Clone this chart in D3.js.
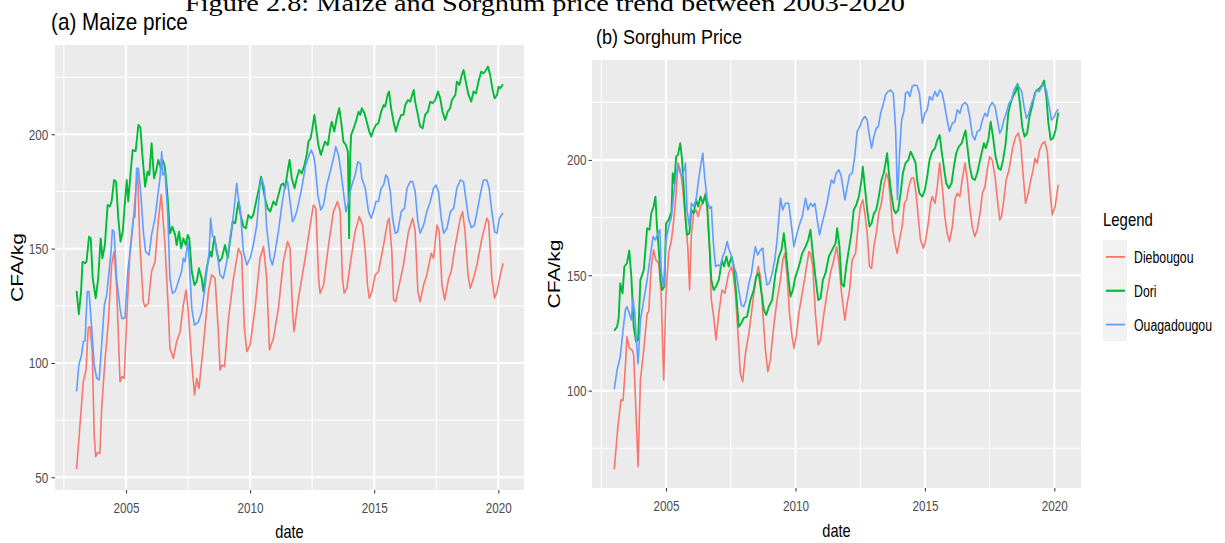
<!DOCTYPE html>
<html>
<head>
<meta charset="utf-8">
<script src="https://cdn.jsdelivr.net/npm/d3@7"></script>
<style>
  body { margin: 0; background: #fff; }
  text { font-family: "Liberation Sans", Arial, Helvetica, sans-serif; }
  text.caption { font-family: "Liberation Serif", "Times New Roman", serif; }
</style>
</head>
<body>
<svg id="fig" width="1225" height="543"></svg>
<script>
var markets = ['Diebougou', 'Dori', 'Ouagadougou'];
var colors = ['#F8766D', '#00BA38', '#619CFF'];
var yearTicks = [2005, 2010, 2015, 2020];
var maizeTicks = [50, 100, 150, 200];
var sorghumTicks = [100, 150, 200];

// [decimal year, CFA/kg]
var maizeDiebougou = [[2003.01,53.6],[2003.28,91.8],[2003.39,96.9],[2003.48,115.5],[2003.55,115.9],[2003.64,105],[2003.72,68.5],[2003.78,59],[2003.86,60.9],[2003.95,60.5],[2004.02,80],[2004.15,100.6],[2004.29,118],[2004.42,142.9],[2004.52,148.7],[2004.62,134],[2004.76,91.8],[2004.83,94],[2004.93,93.3],[2005.03,119.5],[2005.16,148.7],[2005.30,163.3],[2005.40,176.4],[2005.47,183.5],[2005.56,151.6],[2005.70,126.8],[2005.77,124.6],[2005.90,126],[2006.03,140],[2006.17,144.3],[2006.30,161.8],[2006.42,173.7],[2006.57,151.6],[2006.71,122.4],[2006.77,106.4],[2006.91,102],[2007.04,109.3],[2007.18,113.7],[2007.31,125.4],[2007.42,131.9],[2007.51,122.4],[2007.65,100.6],[2007.76,86],[2007.85,93.3],[2007.94,88.9],[2008.12,107.9],[2008.32,131.2],[2008.45,138.5],[2008.59,137],[2008.72,113.7],[2008.79,96.9],[2008.86,99.1],[2008.97,98.4],[2009.13,119.5],[2009.33,137],[2009.53,150.1],[2009.66,147.2],[2009.77,115.2],[2009.87,105],[2010.0,107.9],[2010.2,123.9],[2010.40,145.8],[2010.54,150.9],[2010.67,137],[2010.78,105.7],[2010.94,110.8],[2011.14,123.9],[2011.34,144.3],[2011.51,153.1],[2011.61,150.1],[2011.71,122.4],[2011.77,113.7],[2011.95,128.3],[2012.22,145.8],[2012.38,157.4],[2012.55,169.1],[2012.65,167.6],[2012.76,137],[2012.82,130.5],[2012.96,134.1],[2013.16,151.6],[2013.36,166.2],[2013.52,170.6],[2013.63,166.2],[2013.72,137],[2013.79,130.5],[2013.90,132.7],[2014.03,142.9],[2014.23,157.4],[2014.40,164],[2014.53,160.3],[2014.64,148.7],[2014.73,134.1],[2014.80,128.3],[2014.91,131.2],[2015.04,138.5],[2015.17,139.9],[2015.38,151.6],[2015.54,161.8],[2015.60,163.3],[2015.71,148.7],[2015.78,127.6],[2015.87,126.8],[2015.98,132.7],[2016.18,142.9],[2016.38,157.4],[2016.55,163.3],[2016.65,157.4],[2016.76,131.2],[2016.85,126.8],[2016.99,134.1],[2017.12,138.5],[2017.30,148],[2017.39,145.8],[2017.53,160.3],[2017.62,157.4],[2017.73,134.1],[2017.84,127.6],[2018.0,137],[2018.10,139.9],[2018.27,151.6],[2018.47,163.3],[2018.56,166.2],[2018.66,157.4],[2018.78,138.5],[2018.87,132.7],[2019.0,137],[2019.14,142.9],[2019.34,154.5],[2019.54,163.3],[2019.61,161.8],[2019.74,137],[2019.85,128.3],[2019.95,131.2],[2020.08,138.5],[2020.19,143.6]];

var maizeDori = [[2003.01,131.5],[2003.10,121.3],[2003.19,131.2],[2003.25,144.3],[2003.35,143.6],[2003.41,144.3],[2003.51,155.2],[2003.58,154.5],[2003.66,137],[2003.78,128.3],[2003.88,137],[2003.98,154.5],[2004.05,145.8],[2004.15,151.6],[2004.26,169.1],[2004.35,168.4],[2004.42,170.6],[2004.52,180],[2004.60,179.3],[2004.69,163.3],[2004.78,153.1],[2004.87,157.4],[2004.96,170.6],[2005.03,180],[2005.09,170.6],[2005.20,185.1],[2005.27,193.1],[2005.39,192.7],[2005.50,204.1],[2005.58,202.9],[2005.66,191],[2005.77,177.1],[2005.87,183.7],[2005.94,182.2],[2006.03,196.1],[2006.13,180.8],[2006.21,183.7],[2006.30,188.8],[2006.41,185.1],[2006.47,188.8],[2006.55,186.6],[2006.60,182.2],[2006.68,172],[2006.77,156.7],[2006.87,159.6],[2006.98,156],[2007.04,151.6],[2007.14,157.4],[2007.22,150.1],[2007.31,154.5],[2007.41,151.6],[2007.49,156],[2007.55,154.5],[2007.65,140],[2007.76,134.1],[2007.85,135.6],[2007.94,141.4],[2008.05,137],[2008.12,131.2],[2008.25,141.4],[2008.39,148.7],[2008.45,146.5],[2008.56,155.2],[2008.66,148.7],[2008.75,144.3],[2008.86,145.8],[2008.99,151.6],[2009.10,145.8],[2009.19,153.1],[2009.30,161.8],[2009.40,161.1],[2009.53,170.6],[2009.62,164.7],[2009.73,159.6],[2009.83,158.9],[2009.93,164.7],[2010.04,163.3],[2010.13,164.7],[2010.27,172],[2010.36,176.4],[2010.44,181.5],[2010.50,177.8],[2010.60,172],[2010.71,167.6],[2010.81,166.2],[2010.94,170.6],[2011.04,169.1],[2011.14,173.5],[2011.25,177.8],[2011.34,178.6],[2011.41,176.4],[2011.51,183.7],[2011.59,188.8],[2011.68,180.8],[2011.79,176.4],[2011.88,180.8],[2011.98,184.4],[2012.08,182.9],[2012.19,186.6],[2012.28,191],[2012.35,196.8],[2012.44,198.3],[2012.51,202.6],[2012.59,208.5],[2012.66,202.6],[2012.75,195.3],[2012.85,191],[2012.93,193.9],[2013.02,196.8],[2013.13,195.3],[2013.23,202.6],[2013.29,205.5],[2013.39,201.2],[2013.49,207],[2013.59,211.4],[2013.67,205.5],[2013.76,196.8],[2013.86,195.3],[2013.94,192.4],[2013.99,154.5],[2014.03,189.5],[2014.07,199.7],[2014.17,202.6],[2014.26,205.5],[2014.37,209.9],[2014.44,208.5],[2014.50,211.4],[2014.61,209.2],[2014.70,205.5],[2014.80,201.2],[2014.88,199],[2014.97,201.9],[2015.07,204.1],[2015.17,204.8],[2015.28,209.9],[2015.38,212.8],[2015.44,212.1],[2015.54,217.2],[2015.60,218.7],[2015.68,211.4],[2015.78,205.5],[2015.87,201.2],[2015.98,205.5],[2016.09,208.5],[2016.18,208.5],[2016.25,212.8],[2016.36,215],[2016.45,214.3],[2016.59,219.4],[2016.65,214.3],[2016.76,208.5],[2016.85,203.4],[2016.95,202.6],[2017.05,208.5],[2017.16,209.9],[2017.26,214.3],[2017.35,213.6],[2017.46,215],[2017.57,218.7],[2017.66,215.7],[2017.75,209.9],[2017.86,206.3],[2017.96,209.9],[2018.06,211.4],[2018.13,215],[2018.27,217.2],[2018.33,223],[2018.43,221.6],[2018.53,226],[2018.60,228.1],[2018.69,223],[2018.80,217.2],[2018.91,214.3],[2019.0,218.7],[2019.10,217.9],[2019.20,223],[2019.31,227.4],[2019.40,226.7],[2019.47,227.4],[2019.58,229.6],[2019.67,226],[2019.76,220.1],[2019.85,215.7],[2019.95,217.2],[2020.01,220.8],[2020.08,220.1],[2020.19,221.9]];

var maizeOuaga = [[2003.01,87.5],[2003.10,99.1],[2003.21,103.5],[2003.28,109.3],[2003.35,109.6],[2003.44,131.2],[2003.51,131.2],[2003.62,115.2],[2003.72,99.1],[2003.82,93.3],[2003.92,92.6],[2004.02,107.9],[2004.13,125.4],[2004.22,129.7],[2004.29,137],[2004.40,148.7],[2004.45,158.2],[2004.52,157.4],[2004.62,137],[2004.76,123.9],[2004.83,119.5],[2004.96,119.5],[2005.07,140],[2005.20,151.6],[2005.30,163.3],[2005.36,164],[2005.43,185.1],[2005.50,185.1],[2005.60,173.5],[2005.70,157.4],[2005.79,148.7],[2005.93,147.2],[2006.03,156],[2006.17,163.3],[2006.30,174.9],[2006.37,180.8],[2006.44,192.4],[2006.48,182.2],[2006.57,183.7],[2006.68,166.2],[2006.77,137],[2006.87,130.5],[2006.98,131.2],[2007.11,135.6],[2007.24,140],[2007.31,145.8],[2007.38,144.3],[2007.49,153.1],[2007.55,144.3],[2007.65,123.9],[2007.76,116.6],[2007.92,118],[2008.05,122.4],[2008.19,134.1],[2008.35,148.7],[2008.41,163.3],[2008.48,156],[2008.59,153.1],[2008.70,145.8],[2008.79,138.5],[2008.92,137],[2009.06,144.3],[2009.19,154.5],[2009.33,164.7],[2009.46,178.6],[2009.53,172],[2009.60,167.6],[2009.73,148.7],[2009.87,142.9],[2010.0,145.8],[2010.13,151.6],[2010.27,160.3],[2010.40,177.8],[2010.47,180.8],[2010.58,176.4],[2010.67,158.9],[2010.81,145.8],[2010.90,142.9],[2011.01,148.7],[2011.14,157.4],[2011.30,170.6],[2011.41,177.8],[2011.51,179.3],[2011.61,170.6],[2011.71,161.8],[2011.79,163.3],[2011.88,166.2],[2012.08,176.4],[2012.24,186.6],[2012.38,191],[2012.46,193.1],[2012.55,191],[2012.62,186.6],[2012.73,173.5],[2012.85,166.9],[2012.96,169.1],[2013.09,177.8],[2013.23,183.7],[2013.36,189.5],[2013.45,194.6],[2013.56,191],[2013.66,183.7],[2013.76,174.9],[2013.86,166.2],[2013.97,170.6],[2014.03,174.9],[2014.10,177.8],[2014.23,182.2],[2014.34,188],[2014.44,187.3],[2014.50,180.8],[2014.64,176.4],[2014.77,166.2],[2014.88,163.3],[2014.97,166.2],[2015.07,170.6],[2015.17,170.6],[2015.28,176.4],[2015.38,177.8],[2015.47,182.2],[2015.55,180.8],[2015.65,174.9],[2015.74,163.3],[2015.85,156.7],[2015.95,157.4],[2016.09,166.2],[2016.22,167.6],[2016.32,176.4],[2016.45,179.3],[2016.55,179.3],[2016.65,174.9],[2016.76,161.8],[2016.85,156.7],[2016.99,160.3],[2017.12,166.2],[2017.26,170.6],[2017.39,176.4],[2017.49,177.8],[2017.59,174.9],[2017.70,163.3],[2017.80,156.7],[2017.93,158.9],[2018.07,166.2],[2018.20,167.6],[2018.33,176.4],[2018.47,180],[2018.60,179.3],[2018.69,172],[2018.80,163.3],[2018.91,159.2],[2019.04,160.3],[2019.17,167.6],[2019.27,173.5],[2019.40,180],[2019.54,180],[2019.63,176.4],[2019.74,166.2],[2019.85,157.4],[2019.95,156.7],[2020.04,163.3],[2020.19,165.5]];

var sorghumDiebougou = [[2003.0,65.9],[2003.14,84.4],[2003.26,96],[2003.34,95.7],[2003.43,110.4],[2003.49,123.4],[2003.58,118.4],[2003.69,117.6],[2003.75,115.5],[2003.81,98.8],[2003.92,67],[2004.01,104.6],[2004.14,117.6],[2004.27,133.5],[2004.33,134.2],[2004.43,153.8],[2004.52,161],[2004.61,156.6],[2004.72,155.2],[2004.81,142.2],[2004.91,104.6],[2005.0,142.2],[2005.10,159.5],[2005.21,165.3],[2005.30,174],[2005.39,185.5],[2005.46,198.6],[2005.55,195.7],[2005.64,188.4],[2005.75,174],[2005.84,162.4],[2005.91,143.6],[2005.98,168.2],[2006.07,176.9],[2006.16,178.3],[2006.24,175.4],[2006.33,179.8],[2006.42,181.2],[2006.52,185.5],[2006.59,179.8],[2006.68,162.4],[2006.75,139.3],[2006.84,132.1],[2006.93,122],[2007.04,133.5],[2007.16,143.6],[2007.27,142.2],[2007.36,147.3],[2007.42,150.9],[2007.53,153.8],[2007.59,150.9],[2007.68,142.2],[2007.77,126.3],[2007.87,107.5],[2007.96,103.9],[2008.07,116.2],[2008.20,124.9],[2008.30,133.5],[2008.39,142.2],[2008.49,149.4],[2008.56,153.8],[2008.65,149.4],[2008.74,133.5],[2008.84,117.6],[2008.93,108.2],[2009.03,113.3],[2009.16,127.7],[2009.29,139.3],[2009.42,148],[2009.51,156.6],[2009.59,159.5],[2009.68,149.4],[2009.77,133.5],[2009.87,123.4],[2009.94,118.4],[2010.03,123.4],[2010.13,133.5],[2010.26,142.2],[2010.39,150.9],[2010.52,160.3],[2010.58,159.5],[2010.67,153.8],[2010.77,133.5],[2010.88,119.8],[2010.97,122],[2011.10,133.5],[2011.22,142.2],[2011.35,150.9],[2011.48,156.6],[2011.59,162.4],[2011.68,155.2],[2011.78,142.2],[2011.91,130.6],[2012.0,137.9],[2012.09,143.6],[2012.19,156.6],[2012.32,159.5],[2012.42,171.1],[2012.51,179.8],[2012.60,182.7],[2012.68,176.9],[2012.77,168.2],[2012.86,153.8],[2012.94,153],[2013.03,162.4],[2013.12,168.2],[2013.22,176.9],[2013.32,181.2],[2013.41,188.4],[2013.51,194.2],[2013.58,192.1],[2013.67,182.7],[2013.76,169.7],[2013.87,162.4],[2013.93,159.5],[2014.02,165.3],[2014.12,171.1],[2014.21,181.2],[2014.29,182.7],[2014.38,188.4],[2014.48,192.1],[2014.57,192.1],[2014.66,185.5],[2014.74,175.4],[2014.83,165.3],[2014.94,161.7],[2015.03,165.3],[2015.13,172.5],[2015.22,181.2],[2015.28,184.1],[2015.39,181.2],[2015.48,188.4],[2015.57,198.6],[2015.67,188.4],[2015.77,175.4],[2015.86,168.2],[2015.95,164.6],[2016.06,171.1],[2016.16,182.7],[2016.25,185.5],[2016.35,184.1],[2016.44,191.3],[2016.55,198.6],[2016.64,191.3],[2016.73,179.8],[2016.83,171.1],[2016.93,166.8],[2017.02,169.7],[2017.13,176.9],[2017.22,185.5],[2017.32,188.4],[2017.41,195.7],[2017.50,201.4],[2017.60,200],[2017.71,192.8],[2017.80,182.7],[2017.89,174],[2017.96,175.4],[2018.05,182.7],[2018.14,191.3],[2018.25,195.7],[2018.31,200],[2018.40,205.8],[2018.51,210.1],[2018.61,211.6],[2018.70,207.2],[2018.79,194.2],[2018.89,181.2],[2018.99,185.5],[2019.09,191.3],[2019.18,195.7],[2019.25,200.7],[2019.34,198.6],[2019.43,204.3],[2019.54,207.2],[2019.63,207.9],[2019.73,203.6],[2019.82,188.4],[2019.92,176.2],[2020.03,179.8],[2020.15,189.2]];

var sorghumDori = [[2003.0,126],[2003.11,127.7],[2003.17,131.4],[2003.23,146.5],[2003.32,142.2],[2003.39,153.8],[2003.49,155.2],[2003.58,160.7],[2003.66,149.4],[2003.75,127.7],[2003.84,121.2],[2003.92,122],[2004.01,148],[2004.14,152.3],[2004.27,170.4],[2004.36,169.7],[2004.43,176.9],[2004.52,179.8],[2004.59,184.1],[2004.65,171.1],[2004.72,161],[2004.78,149.4],[2004.85,143.6],[2004.94,145.1],[2005.0,172.5],[2005.10,174],[2005.21,177.6],[2005.26,194.2],[2005.32,189.9],[2005.39,201.4],[2005.46,202.2],[2005.55,207.2],[2005.62,200],[2005.68,188.4],[2005.75,175.4],[2005.81,167.5],[2005.90,168.2],[2005.98,178.3],[2006.07,176.9],[2006.16,182.7],[2006.24,179.8],[2006.33,184.1],[2006.42,181.2],[2006.52,184.8],[2006.59,179.8],[2006.68,162.4],[2006.75,148],[2006.84,143.6],[2006.93,145.1],[2007.04,148],[2007.16,156.6],[2007.24,153.8],[2007.33,158.1],[2007.42,153.8],[2007.53,158.1],[2007.62,153.8],[2007.71,142.2],[2007.81,127.7],[2007.91,129.2],[2008.0,131.4],[2008.13,132.1],[2008.26,139.3],[2008.39,143.6],[2008.48,149.4],[2008.58,150.9],[2008.69,142.2],[2008.78,135],[2008.87,132.8],[2008.97,136.4],[2009.10,139.3],[2009.23,150.9],[2009.36,158.1],[2009.46,161],[2009.55,168.2],[2009.61,162.4],[2009.72,149.4],[2009.81,140.8],[2009.90,143.6],[2010.0,149.4],[2010.13,153.8],[2010.26,159.5],[2010.39,162.4],[2010.49,165.3],[2010.58,169.7],[2010.67,159.5],[2010.77,149.4],[2010.88,139.3],[2010.97,140],[2011.06,148],[2011.16,150.9],[2011.29,158.1],[2011.42,161],[2011.55,163.9],[2011.61,170.4],[2011.70,162.4],[2011.78,146.5],[2011.87,145.1],[2011.96,153.8],[2012.06,161],[2012.16,168.2],[2012.25,178.3],[2012.35,180.5],[2012.45,184.1],[2012.55,191.3],[2012.60,197.1],[2012.68,188.4],[2012.77,178.3],[2012.86,171.1],[2012.94,172.5],[2013.03,176.9],[2013.12,178.3],[2013.22,184.1],[2013.32,191.3],[2013.41,194.2],[2013.48,198.6],[2013.54,202.9],[2013.61,194.2],[2013.70,185.5],[2013.80,178.3],[2013.87,176.9],[2013.97,178.3],[2014.06,185.5],[2014.15,194.2],[2014.25,198.6],[2014.36,200],[2014.45,203.6],[2014.54,201.4],[2014.64,198.6],[2014.70,191.3],[2014.79,185.5],[2014.90,184.1],[2015.0,187],[2015.09,192.8],[2015.18,200],[2015.28,203.6],[2015.39,205.1],[2015.48,208.7],[2015.57,210.8],[2015.64,204.3],[2015.73,197.1],[2015.82,189.9],[2015.93,187.7],[2016.03,189.9],[2016.12,197.1],[2016.21,202.9],[2016.31,205.8],[2016.42,207.2],[2016.51,210.8],[2016.57,212.7],[2016.64,205.8],[2016.73,197.1],[2016.83,192.1],[2016.93,191.3],[2017.02,194.2],[2017.13,200],[2017.22,204.3],[2017.28,207.2],[2017.35,205.1],[2017.45,208.7],[2017.54,216.6],[2017.63,210.1],[2017.73,201.4],[2017.84,196.4],[2017.93,195.7],[2018.02,200],[2018.12,207.2],[2018.22,220.2],[2018.31,224.6],[2018.40,227.5],[2018.51,229.6],[2018.58,232.9],[2018.67,224.6],[2018.76,214.5],[2018.85,210.1],[2018.95,211.6],[2019.04,218.8],[2019.14,223.1],[2019.25,228.9],[2019.34,230.3],[2019.43,231.1],[2019.54,232.5],[2019.60,234.4],[2019.69,227.5],[2019.77,215.9],[2019.86,208.7],[2019.95,209.4],[2020.05,213],[2020.15,220.5]];

var sorghumOuaga = [[2003.0,100.6],[2003.11,109],[2003.23,114.7],[2003.34,126.3],[2003.43,135],[2003.49,136.4],[2003.58,133.5],[2003.66,130.6],[2003.72,140],[2003.79,133.5],[2003.85,122],[2003.92,111.8],[2004.01,130.6],[2004.14,139.3],[2004.27,148],[2004.39,158.1],[2004.50,166.8],[2004.59,165.3],[2004.69,168.2],[2004.76,169.7],[2004.82,150.9],[2004.91,145.1],[2005.0,165.3],[2005.10,171.1],[2005.21,175.4],[2005.30,185.5],[2005.39,194.2],[2005.46,197.1],[2005.55,194.2],[2005.64,192.8],[2005.75,198.6],[2005.81,178.3],[2005.90,171.1],[2005.98,181.2],[2006.07,179.8],[2006.16,182.7],[2006.24,189.9],[2006.33,197.1],[2006.42,202.9],[2006.49,192.8],[2006.59,182.7],[2006.68,179],[2006.75,179.8],[2006.82,165.3],[2006.91,153.8],[2007.01,154.5],[2007.10,153.8],[2007.19,158.1],[2007.27,160.3],[2007.36,164.6],[2007.42,161.7],[2007.53,158.1],[2007.62,153.8],[2007.71,150.9],[2007.81,143.6],[2007.91,137.1],[2008.0,136.4],[2008.09,139.3],[2008.20,146.5],[2008.30,150.9],[2008.39,158.1],[2008.45,162.4],[2008.54,158.8],[2008.65,161],[2008.74,161.7],[2008.81,152.3],[2008.90,145.8],[2008.99,146.5],[2009.10,150.9],[2009.20,156.6],[2009.29,165.3],[2009.42,183.4],[2009.51,178.3],[2009.61,181.2],[2009.74,181.2],[2009.85,171.1],[2009.94,162.4],[2010.03,166.8],[2010.13,171.1],[2010.26,175.4],[2010.39,183.4],[2010.48,178.3],[2010.58,181.2],[2010.67,179.8],[2010.75,181.2],[2010.84,174],[2010.93,167.5],[2011.03,172.5],[2011.13,176.9],[2011.22,181.2],[2011.31,187],[2011.39,191.3],[2011.48,189.9],[2011.57,194.2],[2011.68,195.7],[2011.77,192.8],[2011.83,188.4],[2011.91,182.7],[2012.0,188.4],[2012.09,193.5],[2012.19,194.2],[2012.29,201.4],[2012.38,212.3],[2012.49,214.5],[2012.58,217.3],[2012.68,218.8],[2012.77,217.3],[2012.84,211.6],[2012.94,205.1],[2013.03,210.1],[2013.12,213.7],[2013.20,214.5],[2013.29,220.2],[2013.38,223.8],[2013.48,228.2],[2013.58,229.6],[2013.67,230.3],[2013.78,228.9],[2013.87,213],[2013.94,182.7],[2014.02,202.9],[2014.10,217.3],[2014.19,221],[2014.25,228.9],[2014.34,229.6],[2014.42,227.5],[2014.51,231.8],[2014.61,232.5],[2014.70,232.1],[2014.79,228.9],[2014.90,215.9],[2015.0,220.2],[2015.09,221.7],[2015.18,227.5],[2015.28,226],[2015.39,229.6],[2015.48,227.5],[2015.57,230.3],[2015.67,228.9],[2015.77,223.1],[2015.86,217.3],[2015.95,212.3],[2016.06,215.9],[2016.16,216.6],[2016.25,221.7],[2016.35,220.2],[2016.44,223.8],[2016.55,224.9],[2016.64,223.8],[2016.73,218.8],[2016.83,210.8],[2016.93,208.7],[2017.02,212.3],[2017.13,213],[2017.22,217.3],[2017.32,220.2],[2017.41,218.8],[2017.50,223.1],[2017.60,224.9],[2017.71,223.1],[2017.80,217.3],[2017.89,211.6],[2017.96,213],[2018.05,217.3],[2018.14,220.2],[2018.25,224.6],[2018.35,226],[2018.44,230.3],[2018.53,232.1],[2018.63,231.8],[2018.74,229.6],[2018.83,223.1],[2018.92,218.1],[2019.02,220.2],[2019.12,224.6],[2019.21,226.7],[2019.30,230.3],[2019.41,229.6],[2019.51,231.8],[2019.60,232.5],[2019.69,230.3],[2019.79,223.8],[2019.89,217.3],[2020.0,218.8],[2020.08,221],[2020.15,222]];

var svg = d3.select('#fig');
var font = '"Liberation Sans", Arial, sans-serif';

// horizontally squeezed text, like the reference
function label(g, txt, x, y, size, sx, anchor, rot) {
    return g.append('text')
        .attr('transform', 'translate(' + x + ',' + y + ') scale(' + sx + ',1)' + (rot ? ' rotate(' + rot + ')' : ''))
        .attr('text-anchor', anchor || 'start')
        .attr('font-size', size)
        .attr('fill', '#000')
        .text(txt);
}

function minorOf(ticks, domain) {
    var step = ticks[1] - ticks[0], out = [];
    for (var v = ticks[0] - step / 2; v <= domain[1]; v += step) {
        if (v >= domain[0]) out.push(v);
    }
    return out;
}

function drawPanel(p) {
    var g = svg.append('g');
    var x = d3.scaleLinear().domain(p.xDomain).range([p.left, p.right]);
    var y = d3.scaleLinear().domain(p.yDomain).range([p.bottom, p.top]);

    g.append('rect').attr('x', p.left).attr('y', p.top)
        .attr('width', p.right - p.left).attr('height', p.bottom - p.top)
        .attr('fill', '#EBEBEB');

    g.selectAll('.vminor').data(minorOf(yearTicks, p.xDomain)).enter().append('line')
        .attr('x1', x).attr('x2', x).attr('y1', p.top).attr('y2', p.bottom)
        .attr('stroke', '#fff').attr('stroke-width', 1);
    g.selectAll('.hminor').data(minorOf(p.yTicks, p.yDomain)).enter().append('line')
        .attr('y1', y).attr('y2', y).attr('x1', p.left).attr('x2', p.right)
        .attr('stroke', '#fff').attr('stroke-width', 1);
    g.selectAll('.vmajor').data(yearTicks).enter().append('line')
        .attr('x1', x).attr('x2', x).attr('y1', p.top).attr('y2', p.bottom)
        .attr('stroke', '#fff').attr('stroke-width', 2);
    g.selectAll('.hmajor').data(p.yTicks).enter().append('line')
        .attr('y1', y).attr('y2', y).attr('x1', p.left).attr('x2', p.right)
        .attr('stroke', '#fff').attr('stroke-width', 2);

    var line = d3.line().x(function (d) { return x(d[0]); }).y(function (d) { return y(d[1]); });
    p.series.forEach(function (s, i) {
        g.append('path').datum(s).attr('d', line)
            .attr('fill', 'none').attr('stroke', colors[i])
            .attr('stroke-width', i === 1 ? 1.9 : 1.6).attr('stroke-linejoin', 'round');
    });

    var xa = g.append('g').attr('transform', 'translate(0,' + p.bottom + ')')
        .call(d3.axisBottom(x).tickValues(yearTicks).tickFormat(d3.format('d')).tickSize(3.5).tickPadding(8.5));
    var ya = g.append('g').attr('transform', 'translate(' + p.left + ',0)')
        .call(d3.axisLeft(y).tickValues(p.yTicks).tickSize(3.5));
    [xa, ya].forEach(function (a) {
        a.select('.domain').remove();
        a.selectAll('.tick line').attr('stroke', '#333');
        a.selectAll('.tick text').attr('fill', '#4D4D4D').attr('font-size', 15)
            .attr('font-family', font).attr('transform', 'scale(0.78,1)');
    });
    ya.selectAll('.tick text').attr('x', -p.yGap / 0.78);

    label(g, p.title, p.titleX, p.titleY, p.titleSize, 0.9);
    label(g, 'date', (p.left + p.right) / 2, p.dateY, 18, 0.81, 'middle');
    label(g, 'CFA/kg', p.yLabX, (p.top + p.bottom) / 2, 21, 0.75, 'middle', -90);
}

// figure caption (cut off at the top edge in the source)
svg.append('text').attr('class', 'caption').attr('x', 185).attr('y', 11)
    .attr('font-size', 24).attr('textLength', 720).attr('lengthAdjust', 'spacingAndGlyphs')
    .text('Figure 2.8: Maize and Sorghum price trend between 2003-2020');

drawPanel({
    left: 55, right: 524, top: 45, bottom: 490,
    xDomain: [2002.14, 2021.035], yDomain: [44.45, 239.05],
    yTicks: maizeTicks, yGap: 6.7,
    series: [maizeDiebougou, maizeDori, maizeOuaga],
    title: '(a) Maize price', titleX: 51, titleY: 30, titleSize: 23,
    dateY: 538, yLabX: 23
});

drawPanel({
    left: 592, right: 1081, top: 60, bottom: 488,
    xDomain: [2002.14, 2021.03], yDomain: [57.8, 243.3],
    yTicks: sorghumTicks, yGap: 5.5,
    series: [sorghumDiebougou, sorghumDori, sorghumOuaga],
    title: '(b) Sorghum Price', titleX: 596, titleY: 44, titleSize: 20,
    dateY: 537, yLabX: 560
});

// legend
var lg = svg.append('g');
label(lg, 'Legend', 1103, 226, 18, 0.83);
var keyY = d3.scaleBand().domain(markets).range([240, 341.5]);
var keys = lg.selectAll('.key').data(markets).enter().append('g');
keys.append('rect').attr('x', 1103).attr('y', function (d) { return keyY(d); })
    .attr('width', 24).attr('height', keyY.bandwidth()).attr('fill', '#F2F2F2');
keys.append('line').attr('x1', 1106).attr('x2', 1125)
    .attr('y1', function (d) { return keyY(d) + keyY.bandwidth() / 2; })
    .attr('y2', function (d) { return keyY(d) + keyY.bandwidth() / 2; })
    .attr('stroke', function (d, i) { return colors[i]; })
    .attr('stroke-width', function (d, i) { return i === 1 ? 2.2 : 1.8; });
keys.each(function (d) {
    label(d3.select(this), d, 1134, keyY(d) + keyY.bandwidth() / 2 + 6, 16, 0.77);
});
</script>
</body>
</html>
